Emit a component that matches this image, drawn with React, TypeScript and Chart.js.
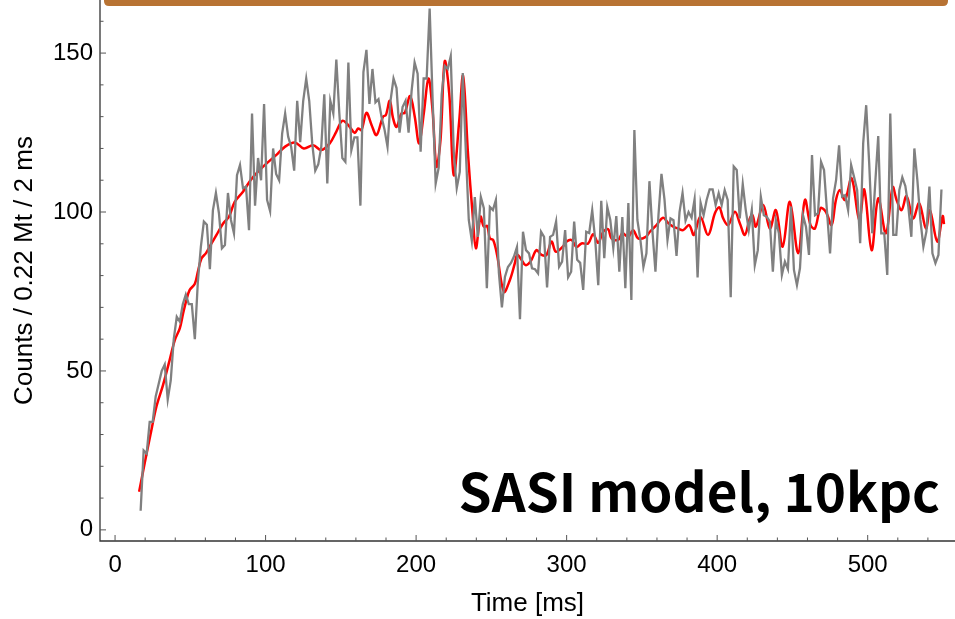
import { useEffect, useRef } from 'react';
import { Chart, registerables } from 'chart.js';

Chart.register(...registerables);

// Gray (binned counts): first bin at t = 17 ms, 2 ms bins
const grayStartMs = 17;
const grayStepMs = 2;
const grayCounts = [
  6, 25, 24, 34, 34, 42, 46, 50, 52, 41,
  47, 60, 67, 65.5, 71, 74, 71, 71, 60, 78,
  89, 97, 96, 82, 100.5, 106, 99.7, 88.6, 89.6, 106,
  97.5, 93.3, 111.6, 114.8, 107.5, 108, 94.3, 131, 102, 117,
  110, 134, 103.8, 100.3, 120, 112, 110, 124.7, 131, 123.7,
  120.5, 113, 135, 122, 135, 142, 135, 121.5, 113, 115,
  120.5, 137, 109, 135, 131, 148, 131, 117, 115.8, 147,
  119.5, 123.5, 123.5, 102, 144, 151, 134, 145, 134.5, 135.5,
  130, 126, 120.5, 135, 142, 139, 125, 133, 135, 125,
  138, 147, 143.5, 119, 142, 142, 164, 135, 109, 114,
  137, 146, 145, 149, 119, 107.5, 112.6, 143.7, 119.5, 97.5,
  91, 104.7, 92.2, 104.7, 101.2, 76, 101.6, 100.6, 103.8, 80.8,
  70, 79.6, 82.7, 84, 86, 89, 66.3, 93.8, 88, 87,
  82.3, 82, 80.7, 93.8, 92.2, 76.3, 92.2, 92.8, 97, 82.8,
  84.4, 94.3, 79.5, 81.2, 97, 85, 84, 75.5, 93.8, 93.4,
  100.6, 91.2, 77, 103.5, 85.5, 101.6, 97.5, 88.7, 98.7, 81.2,
  98.4, 76, 102.8, 72.3, 125.8, 97.5, 91.2, 82.7, 87, 109.7,
  94, 81.2, 99, 112, 104, 91.2, 98, 97.4, 86.2, 100,
  106, 97.3, 100, 98.2, 104, 79.4, 102.9, 99, 103.8, 107.1,
  107.1, 102.2, 105.9, 102.2, 106.9, 103.8, 73.2, 114.3, 113.2, 98,
  108.8, 100.6, 94.3, 100.6, 83.3, 88, 104.8, 99, 98.5, 97,
  81.2, 97.5, 93.3, 80.2, 84.4, 82, 101.7, 81.8, 77, 82.3,
  99, 95.4, 86.5, 117.9, 99, 99.6, 115.8, 113.2, 100, 87,
  104.3, 110, 121, 104.8, 105.3, 100.6, 114.8, 110.9, 106.9, 90.2,
  121.6, 133.6, 115.3, 93.3, 109, 123.9, 93.3, 93.3, 80.2, 131,
  92.8, 92.8, 106.9, 110.9, 108.2, 101.7, 92.2, 120, 110, 97.5,
  89.1, 93.8, 108, 87, 83.9, 86.5, 107.1,
];

// Red (smoothed curve) read at its visible vertices
const redTimes = [
  16, 19.7, 23.5, 27.5, 31.9, 36.3, 39.7, 43, 45.2, 47.4,
  49.6, 53, 55, 57.4, 60.3, 63.4, 67.4, 71.8, 75.7, 79.5,
  85, 90, 94.5, 100, 107, 112.8, 119.4, 125.4, 131.6, 137,
  142.6, 147, 151, 154.8, 159.3, 161.5, 163.7, 167, 170.4, 173.7,
  178, 179.9, 182.5, 184.7, 187, 190.3, 192.5, 196, 199.1, 202,
  205.1, 208.2, 210.9, 213.5, 216.2, 219, 222, 225, 228.6, 231.2,
  234.6, 237.5, 239.7, 242.8, 245, 247.2, 249, 251.2, 253.8, 258.3,
  262.3, 265.6, 267.1, 269.4, 272.7, 276, 280, 283.3, 286.6, 290,
  292.8, 297.3, 300, 303.3, 306.6, 309.9, 314.3, 317.6, 321, 324.3,
  327.6, 329.8, 334.2, 337.1, 340.9, 344.2, 347.5, 352.6, 355.3, 359.7,
  364.1, 367.5, 370.8, 374.1, 377.4, 381.4, 384.5, 388.8, 394, 398.5,
  401.4, 404, 407.3, 411.8, 415.1, 418.4, 421.7, 423.5, 425.7, 430.6,
  435, 439, 443.5, 448.3, 453.8, 458.3, 462, 464.9, 468.7, 472.2,
  476, 478.9, 481.5, 484.9, 489.3, 494.4, 497.7, 502.6, 507, 512.1,
  516.6, 519.2, 522.5, 525.8, 530.2, 534.2, 538.7, 541.3, 546.2, 549.8,
  550.7,
];
const redValues = [
  12, 21, 29.9, 38.8, 45.6, 53.5, 59.7, 63.4, 68.1, 72.3,
  75.5, 77.4, 81.2, 85.4, 87, 89.6, 92.8, 96.4, 98.5, 103.2,
  106.4, 110, 112.5, 115, 117.9, 120.5, 121.9, 120, 121, 119.5,
  121.6, 125.3, 128.7, 127.4, 124.9, 126.3, 125.8, 131.2, 127.4, 124.2,
  130, 130.5, 135, 129.5, 126.8, 131, 131.2, 136.5, 130, 121.6,
  131, 142, 132.1, 114.3, 122.6, 147.4, 137.3, 111.6, 128.4, 142.8,
  117.4, 99.6, 88.6, 98.5, 95.4, 95.6, 91.7, 91.2, 86.5, 74.9,
  78.6, 83.9, 86.5, 85.4, 83.3, 84.4, 88, 86.5, 86.5, 90.7,
  87.5, 89, 90.7, 91.2, 89, 90.1, 90.1, 93, 90.3, 93.8,
  94.6, 91.7, 91.2, 93.3, 92.2, 94.3, 91.7, 92.2, 93.8, 95.9,
  98.2, 96.5, 95.4, 94.8, 94.3, 95.9, 92.8, 98.5, 92.8, 99.6,
  101.5, 98, 95.9, 100.1, 96.4, 92.8, 98, 99, 95.4, 102.2,
  94.8, 100.6, 89.1, 103.2, 87, 103.8, 95.9, 94.8, 101.2, 100.1,
  95.9, 103.8, 106.9, 103.8, 110.6, 97.5, 107.1, 88, 104.3, 93.3,
  107.8, 103.8, 100.6, 105, 98, 102.8, 94.8, 100.6, 90.7, 98.7,
  96.2,
];

const xMajorTicks = [0, 100, 200, 300, 400, 500];
const yMajorTicks = [0, 50, 100, 150];
const xMinorStep = 20;
const yMinorStep = 10;
const xTitle = 'Time [ms]';
const yTitle = 'Counts / 0.22 Mt / 2 ms';
const annotation = 'SASI model, 10kpc';

const X_MIN = -10;
const X_MAX = 558;
const Y_MIN = -3.5;
const Y_MAX = 166.7;

const framePlugin = {
  id: 'mmaFrame',
  afterDatasetsDraw(chart: any) {
    const { ctx, chartArea: a, scales } = chart;
    const x = scales.x;
    const y = scales.y;
    ctx.save();
    ctx.strokeStyle = '#333';
    ctx.lineWidth = 1.3;
    ctx.beginPath();
    ctx.moveTo(a.left, a.top);
    ctx.lineTo(a.left, a.bottom);
    ctx.lineTo(a.right, a.bottom);
    ctx.stroke();
    ctx.lineWidth = 1;
    ctx.strokeStyle = '#555';
    ctx.beginPath();
    for (let v = 0; v <= X_MAX; v += xMinorStep) {
      const px = x.getPixelForValue(v);
      const len = v % 100 === 0 ? 6 : 3.5;
      ctx.moveTo(px, a.bottom);
      ctx.lineTo(px, a.bottom - len);
    }
    for (let v = 0; v <= Y_MAX; v += yMinorStep) {
      const py = y.getPixelForValue(v);
      const len = v % 50 === 0 ? 6 : 3.5;
      ctx.moveTo(a.left, py);
      ctx.lineTo(a.left + len, py);
    }
    ctx.stroke();
    ctx.restore();
  },
  afterDraw(chart: any) {
    const { ctx } = chart;
    ctx.save();
    // orange legend frame clipped at the top
    ctx.fillStyle = '#b87333';
    const r = 5;
    const l = 104, rt = 948, top = -20, bot = 6;
    ctx.beginPath();
    ctx.moveTo(l, top);
    ctx.lineTo(rt, top);
    ctx.lineTo(rt, bot - r);
    ctx.quadraticCurveTo(rt, bot, rt - r, bot);
    ctx.lineTo(l + r, bot);
    ctx.quadraticCurveTo(l, bot, l, bot - r);
    ctx.closePath();
    ctx.fill();
    // annotation
    ctx.fillStyle = '#000';
    ctx.font = 'bold 53px "Noto Sans CJK JP"';
    ctx.textAlign = 'right';
    ctx.textBaseline = 'alphabetic';
    ctx.fillText(annotation, 940, 512);
    ctx.restore();
  },
};

export default function App() {
  const ref = useRef<HTMLCanvasElement | null>(null);
  useEffect(() => {
    document.body.style.margin = '0';
    document.body.style.overflow = 'hidden';
    const canvas = ref.current;
    if (!canvas) return;
    const grayData = grayCounts.map((v, i) => ({ x: grayStartMs + i * grayStepMs, y: v }));
    const redData = redTimes.map((t, i) => ({ x: t, y: redValues[i] }));
    const tickFont = { family: '"Liberation Sans", Arial, sans-serif', size: 24 };
    const titleFont = { family: '"Liberation Sans", Arial, sans-serif', size: 26 };
    const chart = new Chart(canvas, {
      type: 'line',
      data: {
        datasets: [
          {
            data: grayData,
            borderColor: '#808080',
            borderWidth: 2.3,
            pointRadius: 0,
            tension: 0,
          },
          {
            data: redData,
            borderColor: '#ff0000',
            borderWidth: 2.5,
            pointRadius: 0,
            tension: 0.35,
          },
        ],
      },
      options: {
        animation: false,
        responsive: false,
        devicePixelRatio: 1,
        layout: { padding: 0 },
        plugins: { legend: { display: false }, tooltip: { enabled: false } },
        scales: {
          x: {
            type: 'linear',
            min: X_MIN,
            max: X_MAX,
            afterBuildTicks: (s: any) => {
              s.ticks = xMajorTicks.map((v) => ({ value: v }));
            },
            afterFit: (s: any) => {
              s.height = 78;
              s.paddingLeft = 0;
              s.paddingRight = 0;
              s.paddingTop = 0;
              s.paddingBottom = 0;
            },
            grid: { display: false, drawTicks: false },
            border: { display: false },
            ticks: { color: '#000', font: tickFont, padding: 10, maxRotation: 0 },
            title: {
              display: true,
              text: xTitle,
              color: '#000',
              font: titleFont,
              padding: { top: 0, bottom: 0 },
            },
          },
          y: {
            type: 'linear',
            min: Y_MIN,
            max: Y_MAX,
            afterBuildTicks: (s: any) => {
              s.ticks = yMajorTicks.map((v) => ({ value: v }));
            },
            afterFit: (s: any) => {
              s.width = 100;
              s.paddingTop = 0;
              s.paddingBottom = 0;
              s.paddingLeft = 0;
              s.paddingRight = 0;
            },
            grid: { display: false, drawTicks: false },
            border: { display: false },
            ticks: { color: '#000', font: tickFont, padding: 7 },
            title: {
              display: true,
              text: yTitle,
              color: '#000',
              font: titleFont,
              padding: { top: 9, bottom: 0 },
            },
          },
        },
      },
      plugins: [framePlugin],
    } as any);
    return () => chart.destroy();
  }, []);
  return (
    <div style={{ width: 955, height: 619 }}>
      <canvas ref={ref} width={955} height={619} style={{ display: 'block' }} />
    </div>
  );
}
